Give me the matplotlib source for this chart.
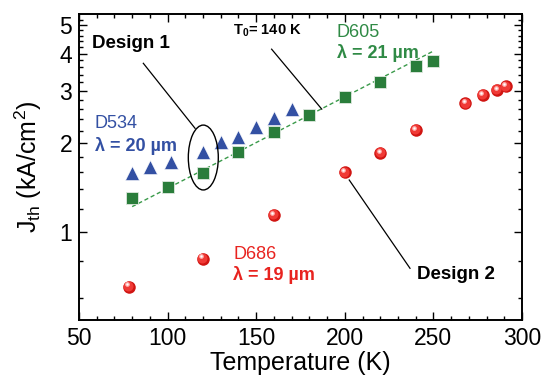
import matplotlib
matplotlib.use("Agg")
import matplotlib.pyplot as plt
from matplotlib.patches import Ellipse
from matplotlib.ticker import FixedLocator, NullFormatter, MultipleLocator
from matplotlib import transforms
import numpy as np

plt.rcParams['font.family'] = ['Liberation Sans', 'DejaVu Sans']
plt.rcParams['mathtext.fontset'] = 'custom'
plt.rcParams['mathtext.rm'] = 'Liberation Sans'
plt.rcParams['mathtext.bf'] = 'Liberation Sans:bold'
plt.rcParams['mathtext.it'] = 'Liberation Sans:italic'

# ---- data ----
T_d534 = [80, 90, 102, 120, 130, 140, 150, 160, 170]
J_d534 = [1.58, 1.66, 1.72, 1.87, 2.02, 2.09, 2.27, 2.42, 2.60]

T_d605 = [80, 100, 120, 140, 160, 180, 200, 220, 240, 250]
J_d605 = [1.30, 1.42, 1.58, 1.865, 2.17, 2.49, 2.86, 3.22, 3.62, 3.78]

T_d686 = [78, 120, 160, 200, 220, 240, 268, 278, 286, 291]
J_d686 = [0.656, 0.815, 1.144, 1.59, 1.85, 2.21, 2.72, 2.90, 3.02, 3.10]

fit_T = [80, 250]
fit_J = [1.22, 4.08]

xticks = [50, 100, 150, 200, 250, 300]
yticks = [1, 2, 3, 4, 5]
yminor = [0.6, 0.8, 1.2, 1.4, 1.6, 1.8, 2.2, 2.4, 2.6, 2.8, 3.2, 3.4, 3.6, 3.8,
          4.2, 4.4, 4.6, 4.8, 5.2]

blue = '#3350a3'
green = '#2a7d3b'
red = '#e8231f'

fig = plt.figure(figsize=(5.43, 3.81), dpi=100)
ax = fig.add_axes([0.1455, 0.160, 0.8158, 0.8033])
ax.set_yscale('log')
ax.set_xlim(50, 300)
ax.set_ylim(0.506, 5.44)

# fit line
ax.plot(fit_T, fit_J, linestyle=(0, (3, 2)), color='#3a9a4a', lw=1.0, zorder=2)

# data
ax.plot(T_d534, J_d534, linestyle='none', marker='^', ms=10.5, color=blue,
        mec='white', mew=0.4, zorder=3)
ax.plot(T_d605, J_d605, linestyle='none', marker='s', ms=8.6, color=green,
        mec='#dfe9df', mew=0.6, zorder=3)
# shaded spheres
ax.plot(T_d686, J_d686, linestyle='none', marker='o', ms=9.0, color='#d01512',
        mec='none', zorder=3)
off1 = transforms.offset_copy(ax.transData, fig=fig, x=-0.5, y=0.5, units='points')
ax.plot(T_d686, J_d686, linestyle='none', marker='o', ms=7.2, color='#f03a36',
        mec='none', zorder=4, transform=off1)
off2 = transforms.offset_copy(ax.transData, fig=fig, x=-1.2, y=1.6, units='points')
ax.plot(T_d686, J_d686, linestyle='none', marker='o', ms=3.4, color='#ffb3b0',
        mec='none', zorder=5, transform=off2)
ax.plot(T_d686, J_d686, linestyle='none', marker='o', ms=1.6, color='white',
        mec='none', zorder=6, transform=off2)

# ellipse (Design 1)
ell = Ellipse((0.2806, 0.531), 0.0677, 0.212, transform=ax.transAxes,
              fill=False, edgecolor='black', lw=1.0, zorder=4)
ax.add_patch(ell)

# annotation lines
ax.plot([86.3, 115.5], [3.71, 2.24], color='black', lw=0.9, zorder=2)
ax.plot([158.7, 187.0], [4.14, 2.60], color='black', lw=0.9, zorder=2)
ax.plot([202.5, 236.8], [1.50, 0.756], color='black', lw=0.9, zorder=2)

# texts
ax.text(57.2, 4.19, 'Design 1', fontsize=13.5, fontweight='bold', va='baseline')
ax.text(240.9, 0.694, 'Design 2', fontsize=13.5, fontweight='bold', va='baseline')
ax.text(137.1, 4.62, r'$\mathbf{T_0}$= 140 K', fontsize=10.5, fontweight='bold',
        va='baseline')
ax.text(59.0, 2.25, 'D534', fontsize=13, color=blue, va='baseline')
ax.text(59.0, 1.88, 'λ = 20 µm', fontsize=13, color=blue, fontweight='bold',
        va='baseline')
ax.text(195.4, 4.56, 'D605', fontsize=13, color='#2f8a45', va='baseline')
ax.text(195.4, 3.86, 'λ = 21 µm', fontsize=13, color='#2f8a45', fontweight='bold',
        va='baseline')
ax.text(137.1, 0.815, 'D686', fontsize=13, color=red, va='baseline')
ax.text(137.1, 0.691, 'λ = 19 µm', fontsize=13, color=red, fontweight='bold',
        va='baseline')

# axes styling
ax.xaxis.set_major_locator(FixedLocator(xticks))
ax.xaxis.set_minor_locator(MultipleLocator(10))
ax.set_xticklabels([str(v) for v in xticks])
ax.yaxis.set_major_locator(FixedLocator(yticks))
ax.yaxis.set_minor_locator(FixedLocator(yminor))
ax.yaxis.set_minor_formatter(NullFormatter())
ax.set_yticklabels([str(v) for v in yticks])

ax.tick_params(which='both', direction='in', top=True, right=True,
               labelsize=16.5, width=1.0, pad=5)
ax.tick_params(which='major', length=6)
ax.tick_params(which='minor', length=3)
for s in ax.spines.values():
    s.set_linewidth(1.4)

ax.set_xlabel('Temperature (K)', fontsize=18, labelpad=1)
ax.set_ylabel(r'J$_{\mathregular{th}}$ (kA/cm$^{\mathregular{2}}$)', fontsize=18, labelpad=11)

fig.savefig('out.png', dpi=100)
